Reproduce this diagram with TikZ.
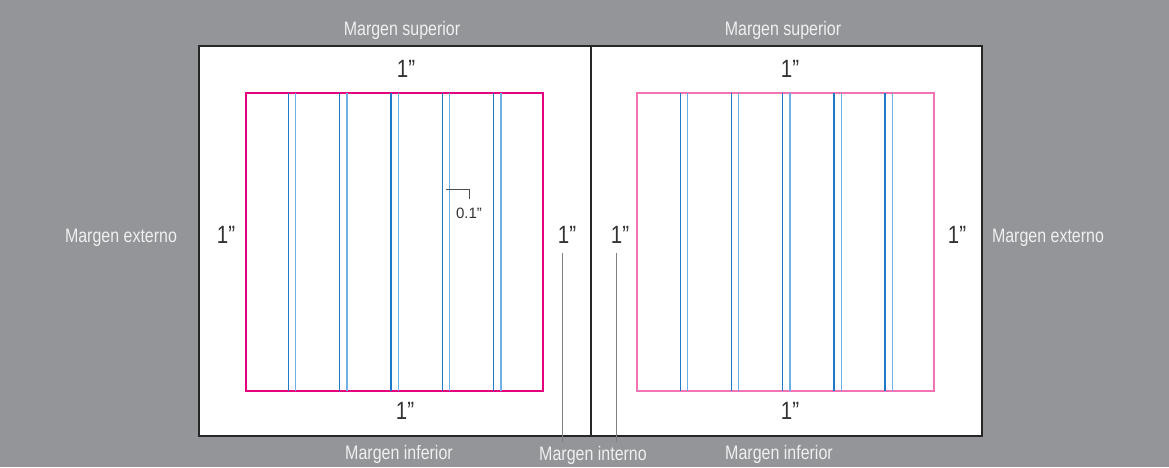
\documentclass[tikz,border=0pt]{standalone}
\usepackage{fontspec}
\setmainfont{Liberation Sans}
\newfontfamily\margfont{Liberation Sans}[FakeStretch=0.82]
\usepackage{tikz}

\definecolor{backgray}{HTML}{939598}
\definecolor{pagepink}{HTML}{E5007D}
\definecolor{pagepinklight}{HTML}{F472B6}
\definecolor{guttblue}{HTML}{1F78C8}
\definecolor{guttbluelight}{HTML}{6FB0E4}

\begin{document}
\begin{tikzpicture}[x=1pt, y=-1pt,
    marglabel/.style={anchor=base, text=white!94!black, font=\margfont\fontsize{19.5}{20}\selectfont},
    inch/.style={anchor=base, text=black!80, font=\margfont\fontsize{25}{25}\selectfont, inner sep=2pt},
    leader/.style={draw=black!50, line width=0.9pt}]
  \useasboundingbox (0,0) rectangle (1169,467);
  \fill[backgray] (0,0) rectangle (1169,467);

  % two pages
  \filldraw[fill=white, draw=black!85, line width=1.5pt] (199,46) rectangle (982,436);
  \draw[black!85, line width=1.2pt] (591,46) -- (591,436);

  % text areas
  \draw[pagepink, line width=1.3pt] (246,93) rectangle (543,391);
  \draw[pagepinklight, line width=1.3pt] (637,93) rectangle (934,391);

  % gutters
  \foreach \i in {0,...,4} {
    \pgfmathsetmacro{\xl}{288.5+51.3*\i}
    \pgfmathsetmacro{\xr}{680.3+51.2*\i}
    \draw[guttblue, line width=1.3pt] (\xl,93) -- (\xl,391);
    \draw[guttbluelight, line width=1.3pt] (\xl+7.3,93) -- (\xl+7.3,391);
    \draw[guttblue, line width=1.3pt] (\xr,93) -- (\xr,391);
    \draw[guttbluelight, line width=1.3pt] (\xr+7.3,93) -- (\xr+7.3,391);
  }

  % margin sizes
  \node[inch] (topl) at (406,77) {1”};
  \node[inch] (topr) at (790,77) {1”};
  \node[inch] (botl) at (405,419) {1”};
  \node[inch] (botr) at (790,419) {1”};
  \node[inch] (extl) at (226,243) {1”};
  \node[inch] (intl) at (567,243) {1”};
  \node[inch] (intr) at (620,243) {1”};
  \node[inch] (extr) at (957,243) {1”};

  % gutter width
  \node[anchor=base, text=black!80, font=\fontsize{15}{15}\selectfont, inner xsep=1pt, inner ysep=8pt] (gutw) at (469,218) {0.1”};
  \coordinate (gutc) at (446,189);
  \draw[black!70, line width=0.9pt] (gutc) -| (gutw.north);

  % margin names
  \node[marglabel] (supl) at (402,35) {Margen superior};
  \node[marglabel] (supr) at (783,35) {Margen superior};
  \node[marglabel] (exl) at (121,242) {Margen externo};
  \node[marglabel] (exr) at (1048,242) {Margen externo};
  \node[marglabel] (infl) at (399,459) {Margen inferior};
  \node[marglabel] (infr) at (779,459) {Margen inferior};
  \node[marglabel] (inter) at (593,460) {Margen interno};

  \coordinate (lil) at (562,253);
  \coordinate (lir) at (616,253);
  \draw[leader] (lil) -- (lil |- inter.north);
  \draw[leader] (lir) -- (lir |- inter.north);
\end{tikzpicture}
\end{document}
